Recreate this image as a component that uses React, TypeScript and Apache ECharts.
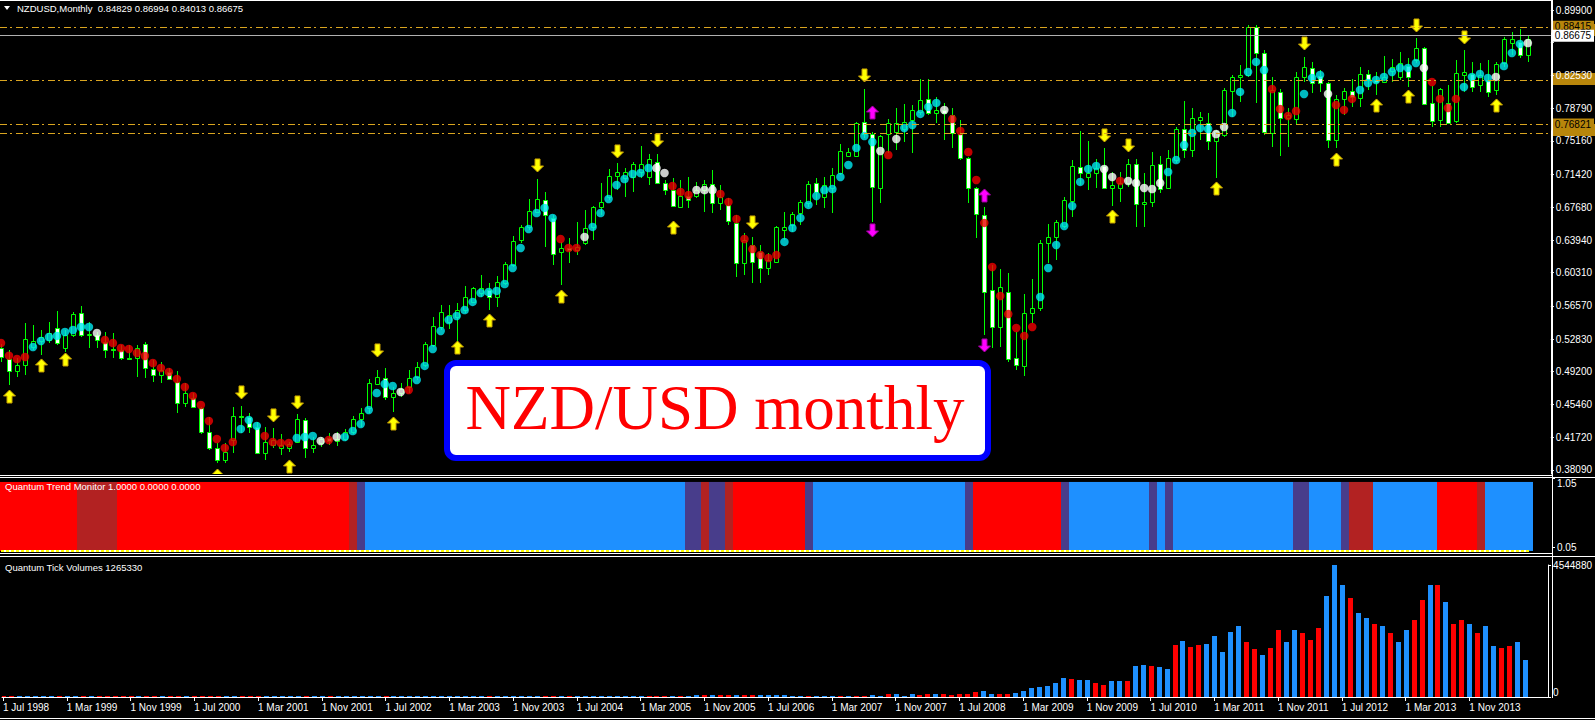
import React, { useEffect, useRef } from "react";
import * as echarts from "echarts";

// ---------- monthly bars, index 0 = Jul 1998 ... 191 = Jun 2014 ----------
const opens = [
  0.5182, 0.5058, 0.4923, 0.4991, 0.5194, 0.5261, 0.5272, 0.5408, 0.5182, 0.5329,
  0.5577, 0.5329, 0.5329, 0.525, 0.5171, 0.516, 0.507, 0.507, 0.5227, 0.4946,
  0.4878, 0.4912, 0.4799, 0.4563, 0.4619, 0.4506, 0.4236, 0.4056, 0.392, 0.4146,
  0.4416, 0.4405, 0.4292, 0.3999, 0.409, 0.4056, 0.4056, 0.4123, 0.4371, 0.4056,
  0.4112, 0.4168, 0.4135, 0.4157, 0.4236, 0.4382, 0.4506, 0.4777, 0.4844, 0.463,
  0.4675, 0.4743, 0.4856, 0.4991, 0.5216, 0.5419, 0.5475, 0.5531, 0.561, 0.5701,
  0.5802, 0.5836, 0.5757, 0.5915, 0.6118, 0.6399, 0.6546, 0.6715, 0.685, 0.6647,
  0.6264, 0.6309, 0.6286, 0.6365, 0.6546, 0.6771, 0.6884, 0.712, 0.7097, 0.7109,
  0.7165, 0.7109, 0.7278, 0.7041, 0.6962, 0.6771, 0.6895, 0.6895, 0.6962, 0.703,
  0.6816, 0.6794, 0.6591, 0.614, 0.6343, 0.6264, 0.6084, 0.6151, 0.6512, 0.6568,
  0.6703, 0.6816, 0.7041, 0.6884, 0.6985, 0.7154, 0.7345, 0.7345, 0.7729, 0.7593,
  0.6985, 0.7593, 0.7616, 0.765, 0.7751, 0.7841, 0.7988, 0.783, 0.7864, 0.7807,
  0.7593, 0.7323, 0.6985, 0.6681, 0.5836, 0.5419, 0.5813, 0.507, 0.498, 0.5577,
  0.5633, 0.6365, 0.6433, 0.6557, 0.6839, 0.7221, 0.7109, 0.7154, 0.7233, 0.6985,
  0.6985, 0.7041, 0.7255, 0.6805, 0.6827, 0.7255, 0.6985, 0.73, 0.765, 0.7413,
  0.7751, 0.7717, 0.7514, 0.7582, 0.8078, 0.8236, 0.8258, 0.8799, 0.8506, 0.7605,
  0.8067, 0.7774, 0.7762, 0.8236, 0.8337, 0.8247, 0.8168, 0.7526, 0.7988, 0.8078,
  0.8, 0.8269, 0.8202, 0.818, 0.8303, 0.8236, 0.836, 0.8427, 0.8562, 0.7943,
  0.7751, 0.7943, 0.774, 0.8258, 0.8269, 0.8145, 0.8202, 0.8089, 0.8393, 0.8618,
  0.863, 0.84829,
];
const highs = [
  0.5227, 0.516, 0.507, 0.5464, 0.5441, 0.5385, 0.5475, 0.5599, 0.5385, 0.5588,
  0.5656, 0.5475, 0.5363, 0.5363, 0.5351, 0.5216, 0.5216, 0.5216, 0.525, 0.5047,
  0.5024, 0.4957, 0.4923, 0.4788, 0.4675, 0.4518, 0.4405, 0.4112, 0.4112, 0.4518,
  0.4529, 0.445, 0.4349, 0.4292, 0.4281, 0.4213, 0.4123, 0.4439, 0.4394, 0.418,
  0.418, 0.4225, 0.4236, 0.427, 0.4416, 0.4506, 0.4833, 0.4934, 0.4957, 0.4743,
  0.4788, 0.4934, 0.5024, 0.525, 0.5531, 0.5667, 0.5667, 0.5689, 0.5881, 0.587,
  0.6005, 0.5915, 0.5993, 0.6151, 0.6444, 0.6568, 0.6861, 0.7086, 0.694, 0.6681,
  0.6377, 0.6422, 0.6602, 0.6737, 0.6782, 0.7041, 0.7199, 0.7267, 0.721, 0.7278,
  0.7458, 0.7368, 0.7368, 0.7075, 0.7097, 0.7075, 0.7109, 0.7053, 0.7075, 0.7188,
  0.7019, 0.6873, 0.6681, 0.6478, 0.6433, 0.6343, 0.6253, 0.6557, 0.6715, 0.6715,
  0.685, 0.7064, 0.7097, 0.7109, 0.721, 0.7481, 0.7435, 0.7729, 0.81, 0.7616,
  0.7582, 0.7762, 0.7886, 0.7931, 0.792, 0.8213, 0.8213, 0.801, 0.7943, 0.7886,
  0.7751, 0.7334, 0.6996, 0.6771, 0.6118, 0.6072, 0.6027, 0.5363, 0.5791, 0.596,
  0.6399, 0.658, 0.6624, 0.6884, 0.73, 0.7627, 0.7514, 0.7312, 0.7436, 0.7165,
  0.7165, 0.7312, 0.7312, 0.7154, 0.739, 0.7345, 0.7413, 0.7672, 0.7965, 0.7886,
  0.7841, 0.783, 0.7638, 0.8112, 0.8258, 0.8371, 0.8821, 0.8821, 0.854, 0.8236,
  0.81, 0.7886, 0.8292, 0.8461, 0.8404, 0.8314, 0.818, 0.8033, 0.8112, 0.8213,
  0.8348, 0.8314, 0.8292, 0.8472, 0.8438, 0.8517, 0.8449, 0.8675, 0.8573, 0.8134,
  0.8112, 0.8145, 0.8427, 0.854, 0.8404, 0.8393, 0.8427, 0.8404, 0.8686, 0.8742,
  0.8776, 0.86994,
];
const lows = [
  0.5024, 0.4765, 0.4856, 0.4878, 0.516, 0.5103, 0.5238, 0.5216, 0.5137, 0.5306,
  0.5306, 0.5182, 0.5182, 0.507, 0.507, 0.5047, 0.5047, 0.4856, 0.4844, 0.4799,
  0.4788, 0.4822, 0.445, 0.4518, 0.4506, 0.4213, 0.4033, 0.3887, 0.3887, 0.3999,
  0.4225, 0.4225, 0.399, 0.392, 0.4056, 0.3977, 0.4011, 0.4112, 0.3943, 0.3999,
  0.4067, 0.409, 0.4078, 0.4135, 0.4213, 0.4292, 0.445, 0.4765, 0.4596, 0.4461,
  0.463, 0.4675, 0.4822, 0.4968, 0.5194, 0.5385, 0.5396, 0.5194, 0.5577, 0.5689,
  0.5757, 0.561, 0.5644, 0.5892, 0.6095, 0.6365, 0.6512, 0.6703, 0.632, 0.6118,
  0.5892, 0.614, 0.623, 0.6343, 0.6399, 0.6681, 0.685, 0.6962, 0.6884, 0.694,
  0.7097, 0.7019, 0.703, 0.6906, 0.6771, 0.676, 0.676, 0.6873, 0.6715, 0.6703,
  0.6737, 0.6568, 0.5982, 0.6005, 0.5915, 0.5915, 0.6005, 0.614, 0.6399, 0.6489,
  0.6568, 0.6771, 0.6794, 0.676, 0.6703, 0.7131, 0.7334, 0.7334, 0.7548, 0.6602,
  0.6816, 0.7379, 0.7413, 0.7503, 0.7379, 0.7807, 0.7807, 0.7717, 0.7526, 0.7436,
  0.73, 0.6816, 0.6422, 0.5329, 0.5182, 0.5194, 0.5024, 0.4934, 0.4867, 0.5464,
  0.5599, 0.614, 0.6174, 0.6534, 0.6658, 0.7019, 0.6962, 0.6985, 0.697, 0.6782,
  0.6827, 0.6996, 0.6546, 0.6546, 0.6771, 0.6929, 0.6973, 0.7267, 0.7323, 0.7334,
  0.7526, 0.7413, 0.7098, 0.756, 0.7785, 0.7954, 0.8236, 0.7943, 0.7582, 0.7447,
  0.7345, 0.7447, 0.7706, 0.8179, 0.8055, 0.8067, 0.7436, 0.7436, 0.7807, 0.7898,
  0.7898, 0.8089, 0.8033, 0.8168, 0.8179, 0.8202, 0.8123, 0.8393, 0.792, 0.7672,
  0.7672, 0.7706, 0.7717, 0.8067, 0.8067, 0.8067, 0.801, 0.8033, 0.8348, 0.8483,
  0.8449, 0.84013,
];
const closes = [
  0.5081, 0.4923, 0.4991, 0.5284, 0.5261, 0.5306, 0.5351, 0.5238, 0.5329, 0.5565,
  0.5329, 0.534, 0.5272, 0.516, 0.516, 0.507, 0.5058, 0.5182, 0.4957, 0.4878,
  0.4934, 0.4833, 0.4563, 0.4675, 0.4518, 0.4236, 0.4056, 0.392, 0.4011, 0.4416,
  0.4405, 0.4292, 0.3999, 0.4123, 0.4146, 0.409, 0.4101, 0.4382, 0.4056, 0.409,
  0.4157, 0.4135, 0.4157, 0.4236, 0.4382, 0.445, 0.4788, 0.4856, 0.463, 0.4675,
  0.472, 0.4844, 0.4968, 0.5227, 0.543, 0.5588, 0.5554, 0.561, 0.5757, 0.5858,
  0.5858, 0.5757, 0.5926, 0.6129, 0.6388, 0.6546, 0.6726, 0.6861, 0.6681, 0.6241,
  0.6309, 0.6286, 0.632, 0.6534, 0.6771, 0.6827, 0.712, 0.7165, 0.7165, 0.7255,
  0.7255, 0.7312, 0.7041, 0.6962, 0.6782, 0.6895, 0.685, 0.6962, 0.703, 0.6816,
  0.6884, 0.6613, 0.614, 0.6399, 0.6151, 0.6084, 0.6174, 0.6546, 0.6546, 0.6692,
  0.6827, 0.703, 0.694, 0.7019, 0.7131, 0.7402, 0.739, 0.7717, 0.7593, 0.6996,
  0.7571, 0.7717, 0.7717, 0.7729, 0.7864, 0.7976, 0.783, 0.7864, 0.783, 0.7605,
  0.7323, 0.6985, 0.6692, 0.5813, 0.5419, 0.587, 0.5058, 0.4991, 0.5577, 0.5633,
  0.6365, 0.6433, 0.6602, 0.685, 0.7233, 0.7154, 0.7154, 0.721, 0.6985, 0.7019,
  0.7041, 0.7255, 0.6805, 0.6827, 0.7244, 0.6973, 0.7323, 0.765, 0.7413, 0.7774,
  0.7785, 0.7514, 0.7627, 0.8089, 0.8236, 0.8258, 0.8799, 0.8506, 0.7616, 0.8089,
  0.7774, 0.7807, 0.8236, 0.8348, 0.8168, 0.8168, 0.7526, 0.7988, 0.8078, 0.801,
  0.8269, 0.8202, 0.818, 0.8236, 0.8348, 0.8393, 0.8236, 0.8562, 0.7931, 0.774,
  0.81, 0.7717, 0.8281, 0.8292, 0.8123, 0.8258, 0.8067, 0.8382, 0.8664, 0.8664,
  0.8483, 0.86675,
];
// trailing dot indicator value and colour code (c = cyan, r = red, w = white)
const dotValues = [
  0.5238, 0.5096, 0.5058, 0.5081, 0.5194, 0.5261, 0.5306, 0.5318, 0.5363, 0.5385,
  0.5419, 0.5419, 0.5351, 0.5272, 0.5238, 0.5182, 0.5171, 0.5126, 0.5092, 0.5013,
  0.4957, 0.4912, 0.4833, 0.4743, 0.4642, 0.454, 0.436, 0.4157, 0.4056, 0.4123,
  0.427, 0.4371, 0.4304, 0.4191, 0.4123, 0.4112, 0.4112, 0.4168, 0.418, 0.4191,
  0.4135, 0.4146, 0.418, 0.418, 0.4247, 0.4326, 0.4484, 0.4675, 0.4777, 0.4754,
  0.4687, 0.4709, 0.4822, 0.498, 0.5171, 0.5374, 0.5498, 0.5543, 0.561, 0.5701,
  0.5802, 0.5813, 0.5825, 0.5903, 0.6084, 0.6309, 0.6523, 0.6703, 0.676, 0.6647,
  0.641, 0.6309, 0.6309, 0.6433, 0.6546, 0.6703, 0.6861, 0.7019, 0.7086, 0.7143,
  0.7154, 0.721, 0.721, 0.7154, 0.7007, 0.694, 0.6906, 0.6962, 0.6962, 0.6962,
  0.6917, 0.6827, 0.6636, 0.641, 0.6297, 0.623, 0.6196, 0.623, 0.6377, 0.6534,
  0.6647, 0.6794, 0.6895, 0.6962, 0.6973, 0.7109, 0.7244, 0.7436, 0.7571, 0.7503,
  0.7402, 0.7356, 0.7537, 0.7661, 0.7695, 0.7819, 0.7898, 0.7943, 0.7864, 0.7762,
  0.7627, 0.739, 0.7075, 0.6591, 0.6095, 0.5768, 0.5565, 0.5408, 0.5318, 0.5419,
  0.5757, 0.6084, 0.6343, 0.6557, 0.6782, 0.7053, 0.7199, 0.7233, 0.7199, 0.7109,
  0.7064, 0.7064, 0.7041, 0.6985, 0.6973, 0.7041, 0.7165, 0.73, 0.7469, 0.7605,
  0.7661, 0.765, 0.7593, 0.7672, 0.783, 0.8067, 0.8292, 0.8405, 0.8314, 0.81,
  0.7875, 0.7796, 0.7852, 0.8044, 0.8224, 0.8258, 0.8044, 0.792, 0.7864, 0.7988,
  0.8089, 0.8168, 0.8202, 0.8236, 0.8292, 0.8337, 0.8337, 0.8393, 0.8337, 0.8179,
  0.7988, 0.7886, 0.7988, 0.8123, 0.8236, 0.8269, 0.8224, 0.8236, 0.8359, 0.8506,
  0.8607, 0.8618,
];
const dotCodes = (
  "rrrrccccccccwrrrrrrrrrrrrrrrrrcccrrrrcccwrwcccccccwrcccccccccccccccccc" +
  "rrrwccccccccwwrrrwwwrrrrrrrrccccccccccccwrwcccccwrrrrrrrrrrrcccccccc" +
  "wwrwwwwwccccccwwcccccrrrrcccwrrrccccccccwrrrrccccwcccw"
).split("");

// arrow signals: kind 0 = yellow up, 1 = yellow down, 2 = magenta up, 3 = magenta down
const arrowIdx = [1, 5, 8, 27, 36, 49, 57, 61, 70, 84, 139, 152, 167, 172, 176, 187,
  30, 34, 37, 47, 67, 77, 82, 94, 108, 138, 141, 163, 177, 183, 109, 123, 109, 123];
const arrowPrice = [0.463, 0.498, 0.5047, 0.374, 0.3842, 0.4326, 0.5182, 0.5487, 0.5757, 0.6534,
  0.6658, 0.6974, 0.73, 0.7909, 0.801, 0.7909,
  0.4687, 0.4428, 0.4574, 0.516, 0.7244, 0.7402, 0.7526, 0.6602, 0.8258, 0.7582, 0.7469,
  0.8618, 0.8821, 0.8686, 0.783, 0.6895, 0.6512, 0.5216];
const arrowKind = [0, 0, 0, 0, 0, 0, 0, 0, 0, 0, 0, 0, 0, 0, 0, 0,
  1, 1, 1, 1, 1, 1, 1, 1, 1, 1, 1, 1, 1, 1, 2, 2, 3, 3];

// Quantum Trend Monitor states: R red, F firebrick, S slate blue, B blue (run lengths)
const trendRuns: [string, number][] = [
  ["R", 10], ["F", 5], ["R", 29], ["F", 1], ["S", 1], ["B", 40], ["S", 2], ["F", 1], ["S", 2],
  ["F", 1], ["R", 9], ["S", 1], ["B", 19], ["S", 1], ["R", 11], ["S", 1], ["B", 10], ["S", 1],
  ["B", 1], ["S", 1], ["B", 15], ["S", 2], ["B", 4], ["S", 1], ["F", 3], ["B", 8], ["R", 5],
  ["F", 1], ["B", 6],
];

// Quantum Tick Volumes
const volumes = [
  26000, 24000, 25000, 27000, 23000, 25000, 24000, 26000, 25000, 24000,
  27000, 25000, 24000, 26000, 25000, 24000, 23000, 25000, 27000, 26000,
  25000, 24000, 28000, 26000, 25000, 29000, 30000, 31000, 28000, 27000,
  26000, 25000, 27000, 28000, 26000, 25000, 24000, 26000, 27000, 25000,
  24000, 25000, 26000, 25000, 27000, 28000, 30000, 29000, 28000, 27000,
  28000, 29000, 30000, 31000, 30000, 29000, 28000, 30000, 31000, 30000,
  32000, 31000, 30000, 33000, 34000, 35000, 33000, 34000, 36000, 35000,
  34000, 33000, 35000, 36000, 37000, 38000, 36000, 37000, 39000, 40000,
  42000, 44000, 46000, 45000, 48000, 47000, 50000, 52000, 55000, 60000,
  58000, 62000, 75000, 70000, 80000, 78000, 70000, 65000, 55000, 50000,
  40000, 40000, 40000, 35000, 40000, 40000, 40000, 40000, 45000, 70000,
  40000, 100000, 100000, 45000, 100000, 70000, 100000, 100000, 100000, 70000,
  100000, 100000, 170000, 205000, 100000, 100000, 100000, 150000, 215000, 310000,
  345000, 380000, 480000, 650000, 620000, 585000, 585000, 480000, 415000, 550000,
  550000, 550000, 1070000, 1100000, 1070000, 1035000, 965000, 1790000, 1930000, 1720000,
  1790000, 1825000, 2100000, 1550000, 2240000, 2440000, 1890000, 1650000, 1450000, 1690000,
  2300000, 1890000, 2300000, 2200000, 1960000, 2380000, 3480000, 4544880, 3840000, 3410000,
  2890000, 2720000, 2530000, 2430000, 2210000, 1890000, 2310000, 2650000, 3340000, 3860000,
  3860000, 3270000, 2510000, 2650000, 2510000, 2200000, 2440000, 1760000, 1690000, 1760000,
  1890000, 1265330,
];
const volumeCodes = (
  "rrbbbbbrbbrbrrrrrbrrbrrbrrrrbbrrrbbbbbrbbrbbbbbbrbbbbbbbbbbbbrbbbbbbrr" +
  "brbbbbbbbbbrrrbrbbrbrrbrrbbbb" +
  "bbrbbbrbrrbbrbbbrrbrrrrrbbrrbbbbbbbrbbrrbbrbbrbbrbrrbbbbbrrbrrbbrrrbbbrbbrbrbbrrbrbrrbrbbrrb"
).split("");

// axis tick labels
const priceTicks = [0.899, 0.8622, 0.8253, 0.7879, 0.7516, 0.7142, 0.6768, 0.6394, 0.6031,
  0.5657, 0.5283, 0.492, 0.4546, 0.4172, 0.3809];
const coveredPriceTick = 0.8622; // hidden behind the current-price box
const dateTicks = ["1 Jul 1998", "1 Mar 1999", "1 Nov 1999", "1 Jul 2000", "1 Mar 2001",
  "1 Nov 2001", "1 Jul 2002", "1 Mar 2003", "1 Nov 2003", "1 Jul 2004", "1 Mar 2005",
  "1 Nov 2005", "1 Jul 2006", "1 Mar 2007", "1 Nov 2007", "1 Jul 2008", "1 Mar 2009",
  "1 Nov 2009", "1 Jul 2010", "1 Mar 2011", "1 Nov 2011", "1 Jul 2012", "1 Mar 2013",
  "1 Nov 2013"];
const dateTickMonths = 8;
const trendTicksLow = [0, 0.05];
const trendTickHigh = [1.05];
const volMax = 4544880;

// horizontal levels: boxed labels that are visible, and boxes that lie underneath others
const visibleLevels = [0.88415, 0.76821];
const coveredLevels = [0.87703, 0.8214, 0.7633];
const currentPrice = 0.86675;

const headerText = "NZDUSD,Monthly  0.84829 0.86994 0.84013 0.86675";
const trendTitle = "Quantum Trend Monitor 1.0000 0.0000 0.0000";
const volTitle = "Quantum Tick Volumes 1265330";
const boxTitle = "NZD/USD monthly";

const FONT = "'Liberation Sans', Arial, sans-serif";
const PMAX = 0.91027;
const PMIN = 0.37626;
const XMIN = -0.125;
const XMAX = 193.875;
const DOT_COLORS: Record<string, string> = { c: "#00E8F0", r: "#F00000", w: "#FFFFFF" };
const TREND_COLORS: Record<string, string> = { R: "#FF0000", F: "#B22222", S: "#483D8B", B: "#1E90FF" };
const VOL_COLORS: Record<string, string> = { r: "#FF0000", b: "#1E90FF" };
const LEVEL_COLOR = "#DAA520";
const BOX_COLOR = "#B8860B";

export default function App() {
  const ref = useRef<HTMLDivElement>(null);

  useEffect(() => {
    document.body.style.margin = "0";
    document.body.style.background = "#000";
    const chart = echarts.init(ref.current as HTMLDivElement, null, { renderer: "svg" });

    const trendStates: string[] = [];
    trendRuns.forEach(([s, n]) => {
      for (let k = 0; k < n; k++) trendStates.push(s);
    });
    const dateTickIdx = dateTicks.map((_, k) => k * dateTickMonths);
    const priceLabelTicks = priceTicks.filter((v) => v !== coveredPriceTick);

    const candleData = opens.map((o, i) => [i, o, highs[i], lows[i], closes[i]]);
    const dotData = dotValues.map((d, i) => ({
      value: [i, d],
      itemStyle: { color: DOT_COLORS[dotCodes[i]] || "#00E8F0" },
    }));
    const arrowData = arrowIdx.map((ix, k) => [ix, arrowPrice[k], arrowKind[k]]);
    const trendData = trendStates.map((s, i) => ({
      value: [i, 1],
      itemStyle: { color: TREND_COLORS[s] },
    }));
    const zeroData = trendStates.map((_, i) => [i, 0]);
    const volData = volumes.map((v, i) => [i, v, volumeCodes[i] === "r" ? 1 : 0]);

    const boxLabel = (txt: string, bg: string) => ({
      show: true,
      position: "end",
      distance: 1,
      formatter: txt,
      color: "#000",
      backgroundColor: bg,
      padding: [1, 3, 1, 3],
      fontSize: 10,
      fontFamily: FONT,
    });
    const dashStyle = { color: LEVEL_COLOR, type: [7, 3, 2, 4], width: 1 };

    const levelMarks: any[] = [
      ...coveredLevels.map((v) => ({ yAxis: v, lineStyle: dashStyle, label: { show: false } })),
      ...visibleLevels.map((v) => ({ yAxis: v, lineStyle: dashStyle, label: boxLabel(v.toFixed(5), BOX_COLOR) })),
      {
        yAxis: currentPrice,
        lineStyle: { color: "#B0B0B0", type: "solid", width: 1 },
        label: boxLabel(currentPrice.toFixed(5), "#FFFFFF"),
      },
    ];

    const axisLabelBase = { color: "#FFFFFF", fontSize: 10, fontFamily: FONT };

    const option: any = {
      animation: false,
      backgroundColor: "#000000",
      textStyle: { fontFamily: FONT },
      grid: [
        { left: 0, top: 0, width: 1552, height: 474 },
        { left: 0, top: 478.5, width: 1552, height: 72.5 },
        { left: 0, top: 565, width: 1552, height: 132 },
      ],
      xAxis: [
        { gridIndex: 0, type: "value", min: XMIN, max: XMAX, show: false, axisLine: { onZero: false } },
        { gridIndex: 1, type: "value", min: XMIN, max: XMAX, show: false, axisLine: { onZero: false } },
        {
          gridIndex: 2, type: "value", min: XMIN, max: XMAX, position: "bottom",
          axisLine: { show: true, onZero: false, lineStyle: { color: "#FFFFFF", width: 1 } },
          axisTick: { show: true, customValues: dateTickIdx, length: 4, lineStyle: { color: "#FFFFFF" } },
          axisLabel: {
            ...axisLabelBase, show: true, customValues: dateTickIdx, align: "left", margin: 5,
            formatter: (v: number) => dateTicks[Math.round(v / dateTickMonths)] || "",
          },
          splitLine: { show: false },
        },
      ],
      yAxis: [
        {
          gridIndex: 0, type: "value", min: PMIN, max: PMAX, position: "right", z: 3,
          axisLine: { show: true, onZero: false, lineStyle: { color: "#FFFFFF", width: 1 } },
          axisTick: { show: true, customValues: priceTicks, length: 3, lineStyle: { color: "#FFFFFF" } },
          axisLabel: { ...axisLabelBase, customValues: priceLabelTicks, margin: 5, formatter: (v: number) => v.toFixed(5) },
          splitLine: { show: false },
        },
        {
          gridIndex: 1, type: "value", min: 0, max: 1.05, position: "right",
          axisLine: { show: true, onZero: false, lineStyle: { color: "#FFFFFF", width: 1 } },
          axisTick: { show: true, customValues: trendTicksLow, length: 3, lineStyle: { color: "#FFFFFF" } },
          axisLabel: { ...axisLabelBase, customValues: trendTicksLow, margin: 5, formatter: (v: number) => v.toFixed(2) },
          splitLine: { show: false },
        },
        {
          gridIndex: 1, type: "value", min: 0, max: 1.05, position: "right",
          axisLine: { show: false, onZero: false },
          axisTick: { show: true, customValues: trendTickHigh, length: 3, lineStyle: { color: "#FFFFFF" } },
          axisLabel: { ...axisLabelBase, customValues: trendTickHigh, margin: 5, verticalAlign: "top", formatter: (v: number) => v.toFixed(2) },
          splitLine: { show: false },
        },
        {
          gridIndex: 2, type: "value", min: 0, max: volMax, position: "right",
          axisLine: { show: true, onZero: false, lineStyle: { color: "#FFFFFF", width: 1 } },
          axisTick: { show: true, customValues: [volMax], length: 3, lineStyle: { color: "#FFFFFF" } },
          axisLabel: { ...axisLabelBase, customValues: [volMax], margin: 5, formatter: (v: number) => String(Math.round(v)) },
          splitLine: { show: false },
        },
        {
          gridIndex: 2, type: "value", min: 0, max: volMax, position: "right",
          axisLine: { show: false, onZero: false },
          axisTick: { show: true, customValues: [0], length: 3, lineStyle: { color: "#FFFFFF" } },
          axisLabel: { ...axisLabelBase, customValues: [0], margin: 5, verticalAlign: "bottom", formatter: (v: number) => String(Math.round(v)) },
          splitLine: { show: false },
        },
      ],
      series: [
        {
          // level boxes that sit underneath other labels in the price scale
          type: "custom",
          name: "coveredBoxes",
          xAxisIndex: 0,
          yAxisIndex: 0,
          clip: false,
          silent: true,
          z: 0,
          data: coveredLevels.map((v) => [XMAX, v]),
          renderItem: (_p: any, api: any) => {
            const pt = api.coord([api.value(0), api.value(1)]);
            return {
              type: "rect",
              shape: { x: Math.round(pt[0]) + 1, y: Math.round(pt[1]) - 6, width: 43, height: 12 },
              style: { fill: BOX_COLOR },
            };
          },
        },
        {
          type: "line",
          name: "levels",
          xAxisIndex: 0,
          yAxisIndex: 0,
          data: closes.map((c, i) => [i, c]),
          showSymbol: false,
          symbol: "none",
          lineStyle: { opacity: 0, width: 0 },
          silent: true,
          z: 1,
          markLine: {
            silent: true,
            symbol: ["none", "none"],
            label: { show: false },
            data: levelMarks,
          },
        },
        {
          type: "custom",
          name: "candles",
          xAxisIndex: 0,
          yAxisIndex: 0,
          clip: true,
          z: 2,
          encode: { x: 0, y: [1, 2, 3, 4] },
          data: candleData,
          renderItem: (_p: any, api: any) => {
            const i = api.value(0);
            const o = api.value(1), h = api.value(2), l = api.value(3), c = api.value(4);
            const pO = api.coord([i, o]);
            const pC = api.coord([i, c]);
            const pH = api.coord([i, h]);
            const pL = api.coord([i, l]);
            const cx = Math.round(pO[0]);
            const top = Math.round(Math.min(pO[1], pC[1]));
            const bot = Math.round(Math.max(pO[1], pC[1]));
            const bull = c >= o;
            return {
              type: "group",
              children: [
                {
                  type: "line",
                  shape: { x1: cx + 0.5, y1: Math.round(pH[1]), x2: cx + 0.5, y2: Math.round(pL[1]) },
                  style: { stroke: "#00FF00", lineWidth: 1 },
                },
                {
                  type: "rect",
                  shape: { x: cx - 1.5, y: top + 0.5, width: 4, height: Math.max(bot - top, 1) },
                  style: { fill: bull ? "#000000" : "#FFFFFF", stroke: "#00FF00", lineWidth: 1 },
                },
              ],
            };
          },
        },
        {
          type: "scatter",
          name: "dots",
          xAxisIndex: 0,
          yAxisIndex: 0,
          symbol: "circle",
          symbolSize: 8.5,
          z: 3,
          silent: true,
          data: dotData,
        },
        {
          type: "custom",
          name: "arrows",
          xAxisIndex: 0,
          yAxisIndex: 0,
          clip: true,
          z: 4,
          data: arrowData,
          renderItem: (_p: any, api: any) => {
            const pt = api.coord([api.value(0), api.value(1)]);
            const kind = api.value(2);
            const up = kind === 0 || kind === 2;
            const s = up ? 1 : -1;
            const cx = Math.round(pt[0]) + 0.5;
            const cy = pt[1];
            const pts = [
              [cx, cy - 7 * s], [cx + 6, cy - 1 * s], [cx + 2.5, cy - 1 * s], [cx + 2.5, cy + 6 * s],
              [cx - 2.5, cy + 6 * s], [cx - 2.5, cy - 1 * s], [cx - 6, cy - 1 * s],
            ];
            const yellow = kind < 2;
            return {
              type: "polygon",
              shape: { points: pts },
              style: {
                fill: yellow ? "#FFFF00" : "#FF00FF",
                stroke: yellow ? "#C8A000" : "#A000A0",
                lineWidth: 1,
              },
            };
          },
        },
        {
          type: "bar",
          name: "trend",
          xAxisIndex: 1,
          yAxisIndex: 1,
          barWidth: 8,
          silent: true,
          data: trendData,
        },
        {
          type: "line",
          name: "trendZeroWhite",
          xAxisIndex: 1,
          yAxisIndex: 1,
          data: zeroData,
          symbol: "none",
          silent: true,
          z: 3,
          lineStyle: { color: "#FFFFFF", width: 2 },
        },
        {
          type: "line",
          name: "trendZeroYellow",
          xAxisIndex: 1,
          yAxisIndex: 1,
          data: zeroData,
          symbol: "none",
          silent: true,
          z: 4,
          lineStyle: { color: "#FFFF00", width: 2, type: [3, 2] },
        },
        {
          type: "custom",
          name: "volumes",
          xAxisIndex: 2,
          yAxisIndex: 3,
          clip: true,
          data: volData,
          renderItem: (_p: any, api: any) => {
            const pTop = api.coord([api.value(0), api.value(1)]);
            const pBase = api.coord([api.value(0), 0]);
            const cx = Math.round(pTop[0]);
            const top = Math.round(pTop[1]);
            const base = Math.round(pBase[1]);
            return {
              type: "rect",
              shape: { x: cx - 2, y: Math.min(top, base - 1), width: 5, height: Math.max(base - top, 1) },
              style: { fill: api.value(2) === 1 ? VOL_COLORS.r : VOL_COLORS.b },
            };
          },
        },
      ],
      graphic: [
        // panel frames
        { type: "line", z: 50, shape: { x1: 0, y1: 0.5, x2: 1552, y2: 0.5 }, style: { stroke: "#FFFFFF", lineWidth: 1 } },
        { type: "line", z: 50, shape: { x1: 1552.5, y1: 0, x2: 1552.5, y2: 698 }, style: { stroke: "#FFFFFF", lineWidth: 1 } },
        { type: "line", z: 50, shape: { x1: 0, y1: 475.5, x2: 1552, y2: 475.5 }, style: { stroke: "#FFFFFF", lineWidth: 1 } },
        { type: "line", z: 50, shape: { x1: 0, y1: 477.5, x2: 1595, y2: 477.5 }, style: { stroke: "#FFFFFF", lineWidth: 1 } },
        { type: "line", z: 50, shape: { x1: 0, y1: 553.5, x2: 1552, y2: 553.5 }, style: { stroke: "#FFFFFF", lineWidth: 1 } },
        { type: "line", z: 50, shape: { x1: 0, y1: 556.5, x2: 1595, y2: 556.5 }, style: { stroke: "#FFFFFF", lineWidth: 1 } },
        { type: "line", z: 50, shape: { x1: 0, y1: 718.5, x2: 1595, y2: 718.5 }, style: { stroke: "#FFFFFF", lineWidth: 1 } },
        // header
        { type: "polygon", z: 50, shape: { points: [[4, 6], [10, 6], [7, 10]] }, style: { fill: "#FFFFFF" } },
        {
          type: "text", z: 50, x: 17, y: 8,
          style: { text: headerText, fill: "#FFFFFF", font: `9.5px ${FONT}`, textVerticalAlign: "middle", verticalAlign: "middle" },
        },
        {
          type: "text", z: 50, x: 5, y: 486,
          style: { text: trendTitle, fill: "#FFFFFF", font: `9.5px ${FONT}`, textVerticalAlign: "middle", verticalAlign: "middle" },
        },
        {
          type: "text", z: 50, x: 5, y: 567,
          style: { text: volTitle, fill: "#FFFFFF", font: `9.5px ${FONT}`, textVerticalAlign: "middle", verticalAlign: "middle" },
        },
        // title box
        {
          type: "group", z: 60,
          children: [
            {
              type: "rect",
              shape: { x: 447, y: 363, width: 541, height: 95, r: 9 },
              style: { fill: "#FFFFFF", stroke: "#0000FF", lineWidth: 6 },
            },
            {
              type: "text", x: 715, y: 408,
              style: {
                text: boxTitle, fill: "#FF0000", font: `63px 'Liberation Serif', 'Times New Roman', serif`,
                align: "center", verticalAlign: "middle", textAlign: "center", textVerticalAlign: "middle",
              },
            },
          ],
        },
      ],
    };

    chart.setOption(option);
    return () => chart.dispose();
  }, []);

  return <div ref={ref} style={{ width: 1595, height: 720, background: "#000" }} />;
}
